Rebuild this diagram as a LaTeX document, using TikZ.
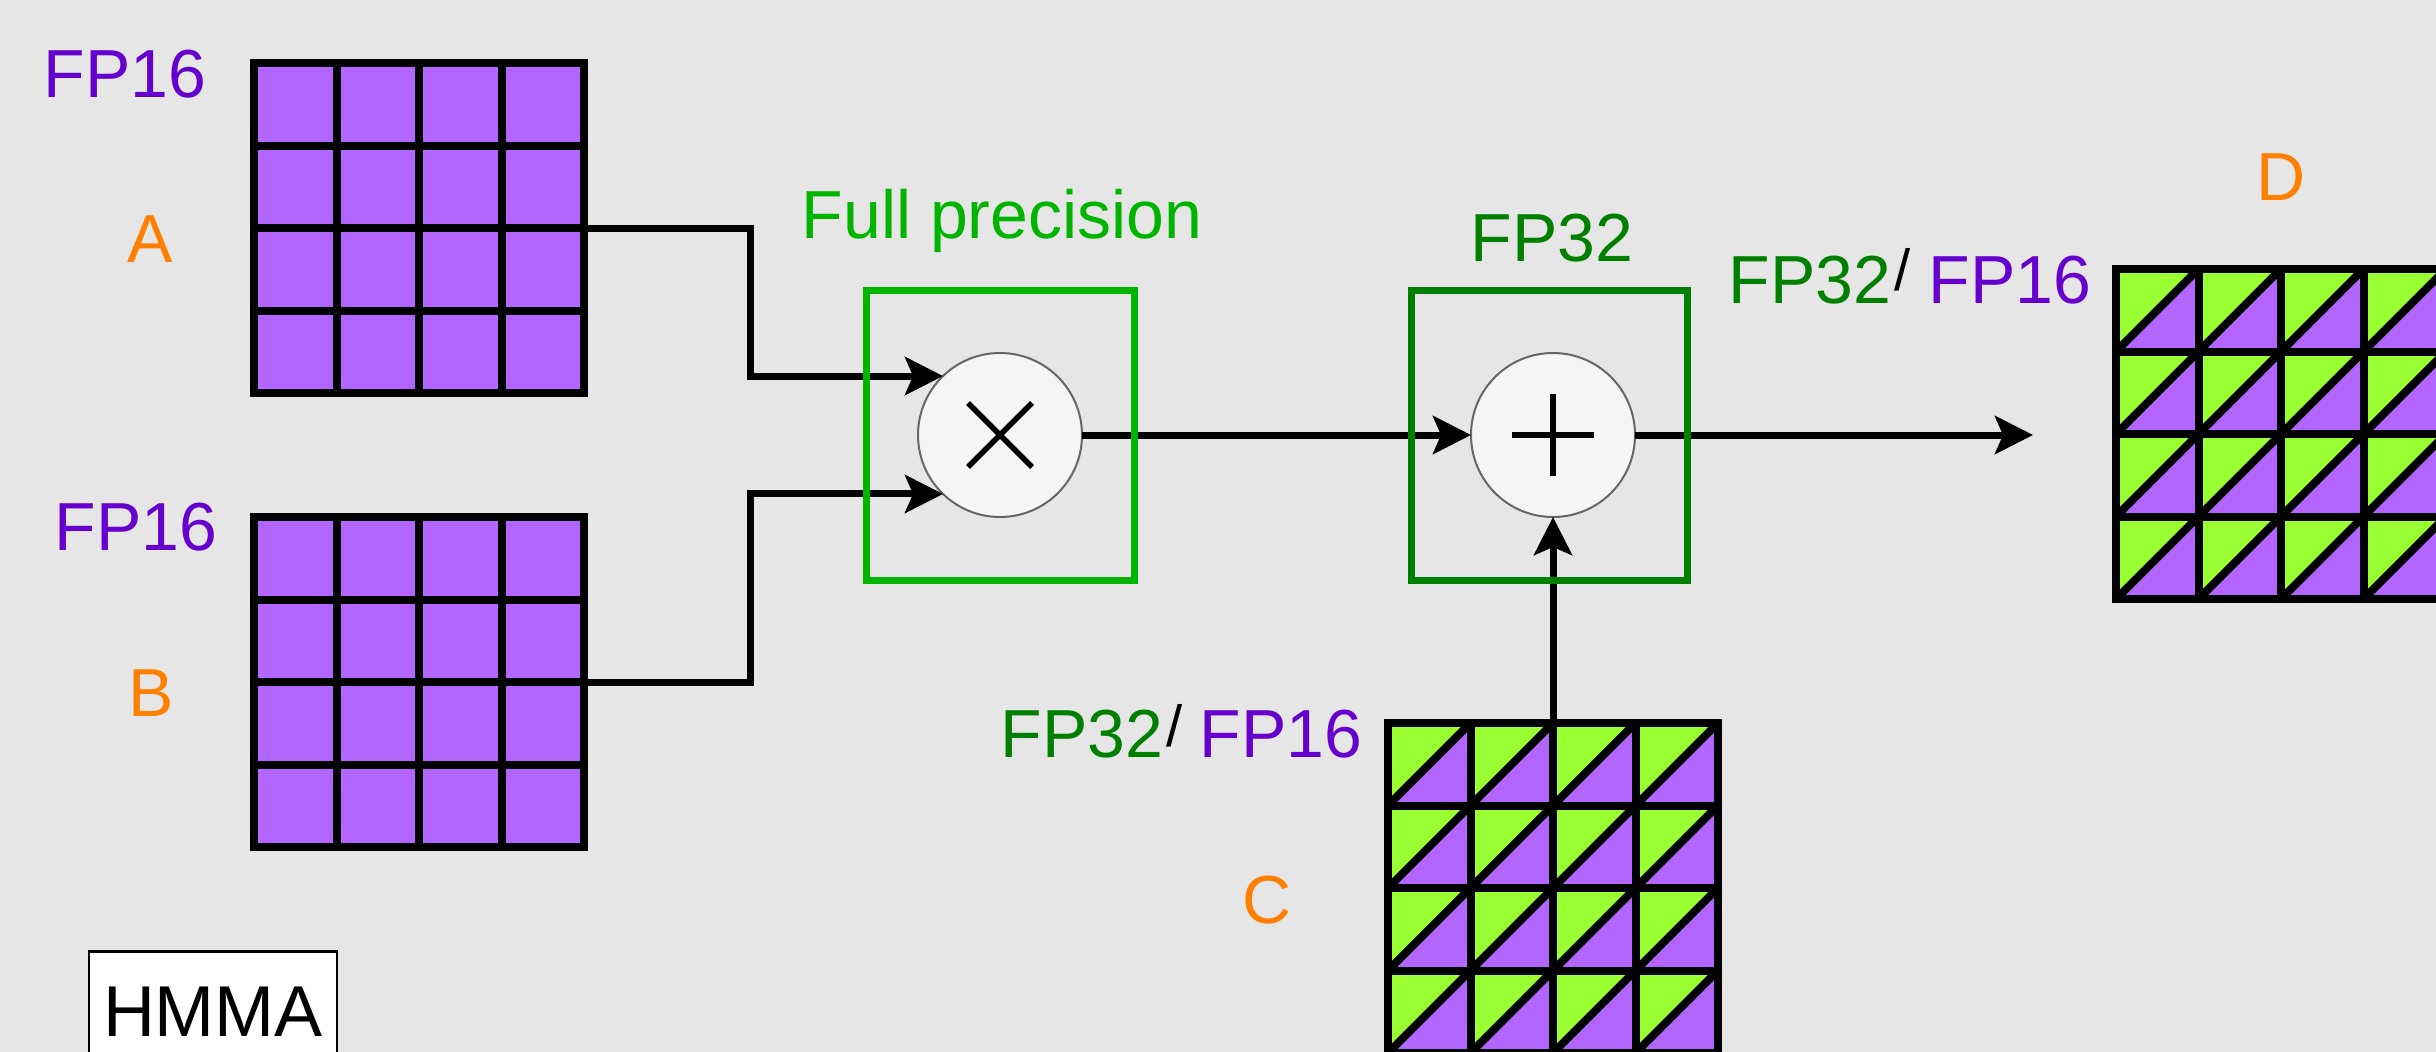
\documentclass[tikz,border=0pt]{standalone}
\usepackage{fontspec}
\setmainfont{Liberation Sans}
\usetikzlibrary{arrows.meta,calc}
\definecolor{bg}{HTML}{E6E6E6}
\definecolor{pfill}{HTML}{B266FF}
\definecolor{gfill}{HTML}{99FF33}
\definecolor{ptext}{HTML}{6600CC}
\definecolor{otext}{HTML}{FF8000}
\definecolor{lgreen}{HTML}{00B400}
\definecolor{dgreen}{HTML}{007F00}
\definecolor{opfill}{HTML}{F5F5F5}
\definecolor{opline}{HTML}{666666}
\begin{document}
\begin{tikzpicture}[x=1pt,y=-1pt,
  mat/.style={rectangle, minimum width=330pt, minimum height=330pt, inner sep=0pt, outer sep=0pt, fill=pfill},
  gridl/.style={line width=8pt, black},
  conn/.style={line width=7pt, black, -{Stealth[length=38pt,width=38pt,inset=8pt]}},
  lbl/.style={font=\fontsize{68}{80}\selectfont, anchor=base, inner sep=0pt},
  slashlbl/.style={font=\fontsize{58}{70}\selectfont, anchor=base, inner sep=0pt, black},
  opnode/.style={circle, minimum size=164pt, inner sep=0pt, outer sep=0pt, fill=opfill, draw=opline, line width=2pt},
  opsym/.style={line width=5.5pt, black},
  unitbox/.style={rectangle, draw, line width=7pt, inner sep=0pt, minimum height=290pt}
]
\useasboundingbox (0,0) rectangle (2436,1052);
\clip (0,0) rectangle (2436,1052);
\fill[bg] (0,0) rectangle (2436,1052);

% matrices
\node[mat] (A) at (419,228) {};
\node[mat] (B) at (419,682) {};
\node[mat] (C) at (1553,888) {};
\node[mat] (D) at (2281,434) {};

\foreach \m in {C,D}{
  \foreach \i in {0,...,3}{
    \foreach \j in {0,...,3}{
      \fill[gfill] ($(\m.north west)+(\i*82.5,\j*82.5)$) -- ++(82.5,0) -- ++(-82.5,82.5) -- cycle;
      \draw[gridl] ($(\m.north west)+(\i*82.5,\j*82.5+82.5)$) -- ++(82.5,-82.5);
    }
  }
}
\foreach \m in {A,B,C,D}{
  \draw[gridl] (\m.north west) rectangle (\m.south east);
  \foreach \i in {1,2,3}{
    \draw[gridl] ($(\m.north west)+(\i*82.5,0)$) -- ($(\m.south west)+(\i*82.5,0)$);
    \draw[gridl] ($(\m.north west)+(0,\i*82.5)$) -- ($(\m.north east)+(0,\i*82.5)$);
  }
}

% operators
\node[opnode] (mul) at (1000,435) {};
\node[opnode] (add) at (1553,435) {};
\draw[opsym] ($(mul.center)+(-32,-32)$) -- ($(mul.center)+(32,32)$);
\draw[opsym] ($(mul.center)+(-32,32)$) -- ($(mul.center)+(32,-32)$);
\draw[opsym] ($(add.center)+(-41,0)$) -- ($(add.center)+(41,0)$);
\draw[opsym] ($(add.center)+(0,-41)$) -- ($(add.center)+(0,41)$);

% connectors
\coordinate (out) at (2033,435);
\draw[conn] (A.east) -- ++(166,0) |- (mul.134);
\draw[conn] (B.east) -- ++(166,0) |- (mul.226);
\draw[conn] (mul.east) -- (add.west);
\draw[conn] (add.east) -- (out);
\draw[conn] (C.north) -- (add.south);

% unit boxes
\node[unitbox, draw=lgreen, minimum width=268pt] (mulbox) at (1000,435) {};
\node[unitbox, draw=dgreen, minimum width=276pt] (addbox) at (1549,435) {};

% labels
\node[lbl, ptext] (fpa) at (125,97) {FP16};
\node[lbl, otext] (la) at (150,262) {A};
\node[lbl, ptext] (fpb) at (136,550) {FP16};
\node[lbl, otext] (lb) at (151,716) {B};
\node[lbl, lgreen] (full) at (1002,238) {Full precision};
\node[lbl, dgreen] (fp32) at (1552,261) {FP32};
\node[lbl, otext] (ld) at (2281,200) {D};
\node[lbl, dgreen] (fpd1) at (1810,303) {FP32};
\node[slashlbl] (sd) at (1903,290) {/};
\node[lbl, ptext] (fpd2) at (2010,303) {FP16};
\node[lbl, dgreen] (fpc1) at (1082,757) {FP32};
\node[slashlbl] (sc) at (1175,746) {/};
\node[lbl, ptext] (fpc2) at (1281,757) {FP16};
\node[lbl, otext] (lc) at (1267,923) {C};

% legend
\node[draw=black, fill=white, line width=2.5pt, anchor=north, minimum width=248pt, minimum height=120pt, inner sep=0pt,
      font=\fontsize{72}{80}\selectfont] (hmma) at (213,950) {HMMA};
\end{tikzpicture}
\end{document}
